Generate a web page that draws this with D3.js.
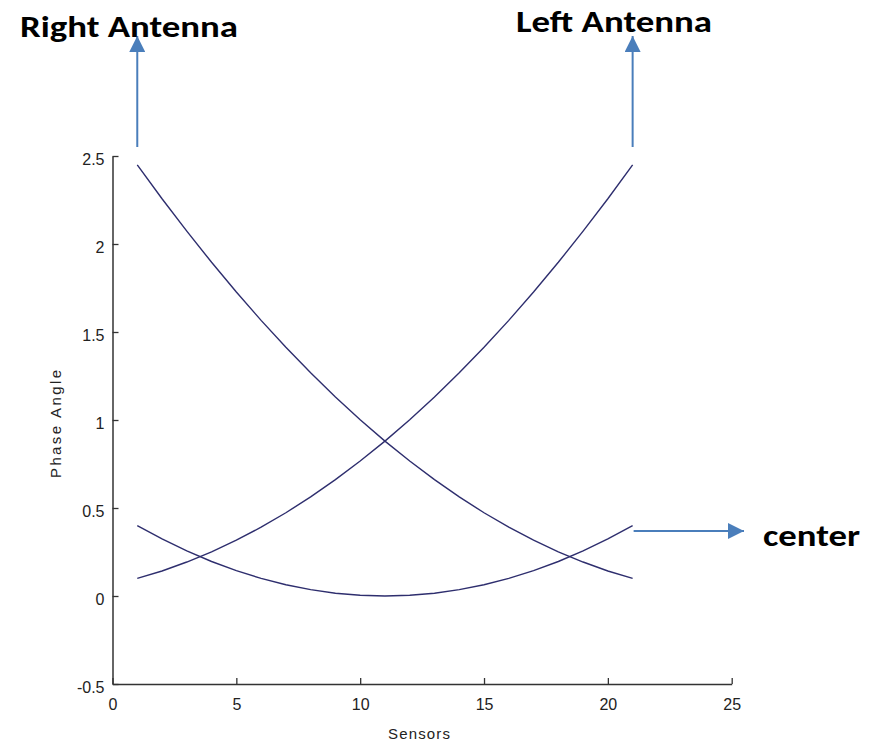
<!DOCTYPE html>
<html><head><meta charset="utf-8">
<script src="https://cdn.jsdelivr.net/npm/d3@7"></script>
<style>body{margin:0;background:#fff}svg{display:block}</style>
</head><body><svg id="c" width="877" height="744"></svg>
<script>
const sensors = [1,2,3,4,5,6,7,8,9,10,11,12,13,14,15,16,17,18,19,20,21];
const rightAntenna = [2.45,2.257,2.073,1.896,1.727,1.566,1.413,1.268,1.131,1.001,0.88,0.767,0.661,0.563,0.473,0.391,0.317,0.251,0.193,0.142,0.10];
const leftAntenna = [0.10,0.142,0.193,0.251,0.317,0.391,0.473,0.563,0.661,0.767,0.88,1.001,1.131,1.268,1.413,1.566,1.727,1.896,2.073,2.257,2.45];
const center = [0.40,0.324,0.256,0.196,0.144,0.10,0.064,0.036,0.016,0.004,0.0,0.004,0.016,0.036,0.064,0.10,0.144,0.196,0.256,0.324,0.40];
const xTicks = [0,5,10,15,20,25];
const yTicks = [-0.5,0,0.5,1,1.5,2,2.5];
const xLabel = "Sensors", yLabel = "Phase Angle";
const annotations = ["Right Antenna","Left Antenna","center"];

const svg = d3.select("#c");
const x = d3.scaleLinear().domain([0,25]).range([112.5,731.7]);
const y = d3.scaleLinear().domain([-0.5,2.5]).range([684,156]);
const tickFont = "'Liberation Sans Narrow','Liberation Sans',Arial,sans-serif";

const gx = svg.append("g").attr("transform","translate(0,684)")
  .call(d3.axisBottom(x).tickValues(xTicks).tickFormat(d3.format("d")).tickSizeInner(-6).tickSizeOuter(0).tickPadding(15));
const gy = svg.append("g").attr("transform","translate(112.5,0)")
  .call(d3.axisLeft(y).tickValues(yTicks).tickFormat(d=>d).tickSizeInner(-6).tickSizeOuter(0).tickPadding(8));
[gx,gy].forEach(g=>{
  g.select(".domain").attr("stroke","#333").attr("stroke-width",1.5);
  g.selectAll(".tick line").attr("stroke","#333").attr("stroke-width",1.3);
  g.selectAll("text").attr("fill","#222").style("font-family",tickFont).style("font-size","16px");
});
gy.selectAll("text").attr("dy","0.5em");

svg.append("text").attr("x",419).attr("y",739).attr("text-anchor","middle")
  .attr("textLength",62).attr("lengthAdjust","spacing")
  .attr("fill","#222").style("font-family",tickFont).style("font-size","15px").text(xLabel);
svg.append("text").attr("transform","translate(61,424) rotate(-90)").attr("text-anchor","middle")
  .attr("textLength",108).attr("lengthAdjust","spacing")
  .attr("fill","#222").style("font-family",tickFont).style("font-size","15px").text(yLabel);

const line = d3.line().x((d,i)=>x(sensors[i])).y(d=>y(d));
[rightAntenna,leftAntenna,center].forEach(s=>{
  svg.append("path").datum(s).attr("d",line).attr("fill","none")
    .attr("stroke","#2e2e6e").attr("stroke-width",1.4);
});

// annotations
const blue = "#4a7ebb";
svg.append("defs").append("marker").attr("id","ah").attr("viewBox","0 0 10 10")
  .attr("refX",10).attr("refY",5).attr("markerWidth",16).attr("markerHeight",16)
  .attr("markerUnits","userSpaceOnUse").attr("orient","auto")
  .append("path").attr("d","M0,0L10,5L0,10Z").attr("fill",blue);

const arrows = [
  {x1:x(1),y1:147,x2:x(1),y2:36},
  {x1:x(21),y1:147,x2:x(21),y2:36},
  {x1:x(21)+1,y1:531,x2:744,y2:531}
];
arrows.forEach(a=>{
  svg.append("line").attr("x1",a.x1).attr("y1",a.y1).attr("x2",a.x2).attr("y2",a.y2)
    .attr("stroke",blue).attr("stroke-width",2).attr("marker-end","url(#ah)");
});

const annFont = "Carlito,Lato,'Open Sans','Noto Sans',sans-serif";
const annPos = [{x:20,y:37,w:218},{x:516,y:32,w:196},{x:763,y:546,w:97}];
annotations.forEach((t,i)=>{
  svg.append("text").attr("x",annPos[i].x).attr("y",annPos[i].y)
    .attr("textLength",annPos[i].w).attr("lengthAdjust","spacingAndGlyphs")
    .style("font-family",annFont).style("font-weight","bold").style("font-size","31px")
    .attr("fill","#000").text(t);
});
</script></body></html>
